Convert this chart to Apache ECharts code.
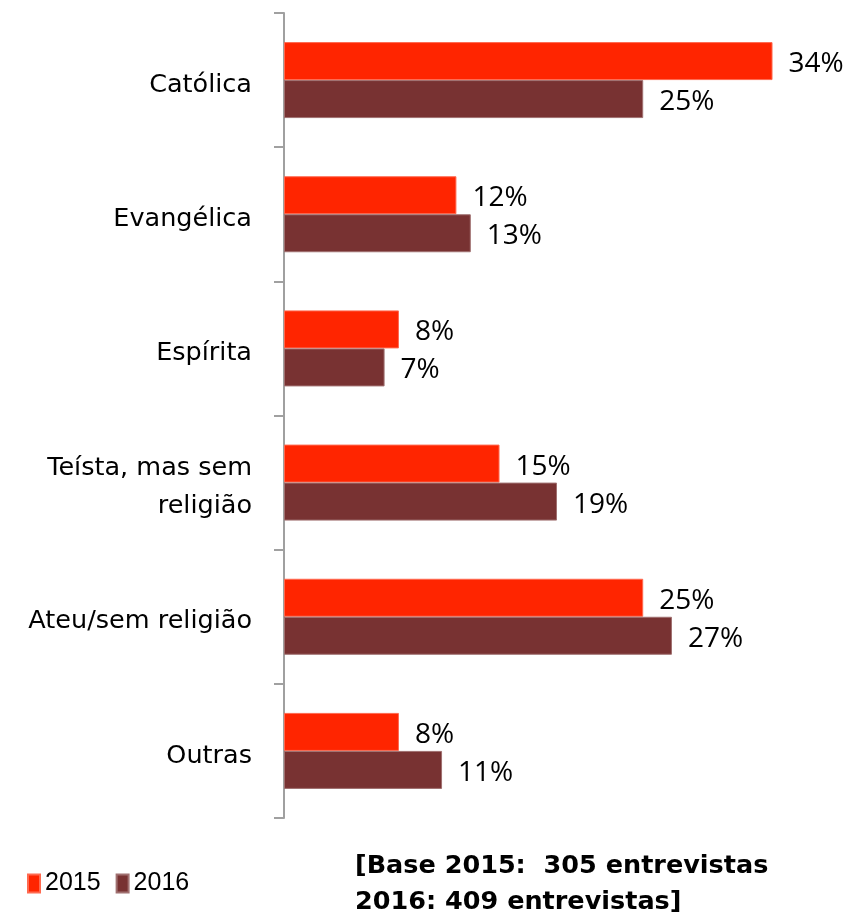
<!DOCTYPE html>
<html>
<head>
<meta charset="utf-8">
<script src="https://cdn.jsdelivr.net/npm/echarts@6/dist/echarts.min.js"></script>
<style>
  html, body { margin: 0; padding: 0; background: #fff; }
  #chart { width: 850px; height: 916px; }
</style>
</head>
<body>
<div id="chart"></div>
<script>
// categorias, de cima para baixo
var categories = ['Católica', 'Evangélica', 'Espírita', 'Teísta, mas sem\nreligião', 'Ateu/sem religião', 'Outras'];
var values2015 = [34, 12, 8, 15, 25, 8];
var values2016 = [25, 13, 7, 19, 27, 11];
var seriesNames = ['2015', '2016'];
var noteLines = ['[Base 2015:  305 entrevistas', '2016: 409 entrevistas]'];

var chart = echarts.init(document.getElementById('chart'));

var valueLabel = {
  show: true,
  position: 'right',
  distance: 16,
  offset: [0, 3],
  formatter: '{c}%',
  color: '#000',
  fontFamily: 'Open Sans',
  fontSize: 28
};

chart.setOption({
  animation: false,
  grid: { left: 284, right: 20, top: 13, bottom: 98, containLabel: false },
  legend: {
    data: seriesNames,
    left: 22,
    top: 866,
    itemWidth: 12,
    itemHeight: 18,
    itemGap: 15,
    icon: 'rect',
    textStyle: { fontFamily: 'Liberation Sans', fontSize: 25, color: '#000', padding: [4, 0, 0, 0] }
  },
  xAxis: {
    type: 'value',
    min: 0,
    max: 38,
    show: false
  },
  yAxis: {
    type: 'category',
    inverse: true,
    data: categories,
    axisLine: { lineStyle: { color: '#a0a0a0', width: 2 } },
    axisTick: { show: true, length: 10, lineStyle: { color: '#a0a0a0', width: 2 } },
    axisLabel: {
      margin: 32,
      color: '#000',
      align: 'right',
      formatter: function (v) {
        return v.split('\n').map(function (s) { return '{c|' + s + '}'; }).join('\n');
      },
      rich: {
        c: {
          fontFamily: 'DejaVu Sans',
          fontSize: 25.5,
          lineHeight: 38,
          color: '#000',
          padding: [10, 0, 0, 0]
        }
      }
    }
  },
  series: [
    {
      name: seriesNames[0],
      type: 'bar',
      data: values2015,
      barWidth: 38,
      barGap: '0%',
      itemStyle: { color: '#ff2500', borderColor: '#ff6a50', borderWidth: 1 },
      label: valueLabel
    },
    {
      name: seriesNames[1],
      type: 'bar',
      data: values2016,
      barWidth: 38,
      itemStyle: { color: '#783232', borderColor: '#a07070', borderWidth: 1 },
      label: valueLabel
    }
  ],
  graphic: [
    {
      type: 'text',
      left: 355,
      top: 848,
      style: {
        text: noteLines.join('\n'),
        fontFamily: 'DejaVu Sans',
        fontWeight: 'bold',
        fontSize: 25.5,
        lineHeight: 36,
        fill: '#000'
      }
    }
  ]
});
</script>
</body>
</html>
